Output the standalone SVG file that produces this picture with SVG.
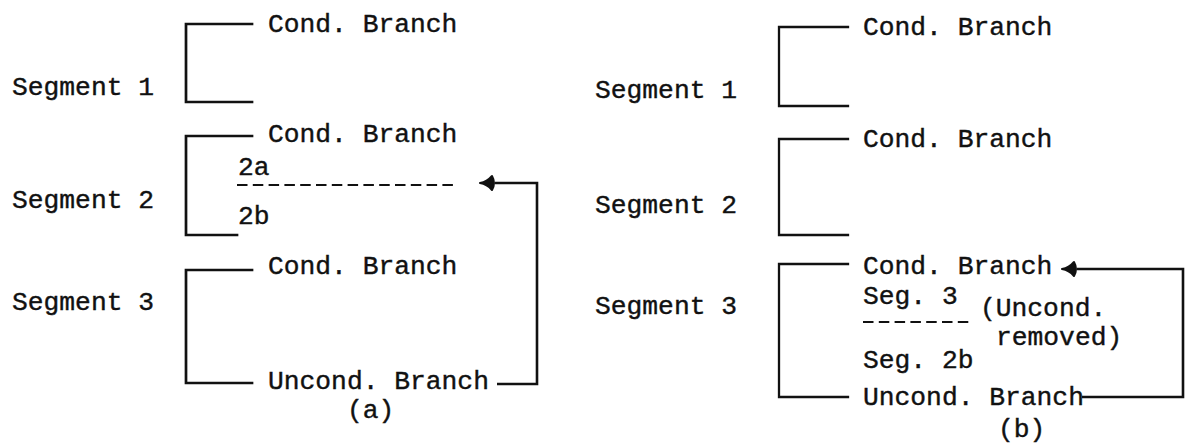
<svg xmlns="http://www.w3.org/2000/svg" width="1195" height="443" viewBox="0 0 1195 443">
  <style>
    text { font-family: "Liberation Mono", "DejaVu Sans Mono", monospace; font-size: 26.3px; fill: #111; stroke: #111; stroke-width: 0.4px; }
    .br { fill: none; stroke: #111; stroke-width: 2.7; stroke-linecap: square; }
    .brr { fill: none; stroke: #111; stroke-width: 2.3; stroke-linecap: square; }
    .dash { fill: none; stroke: #111; stroke-width: 2; stroke-dasharray: 10.5 5.3; }
    .conn { fill: none; stroke: #111; stroke-width: 2.6; }
  </style>
  <defs>
    <!-- blunt, filled arrowhead used by both branch connectors -->
    <marker id="head" markerUnits="userSpaceOnUse" markerWidth="18" markerHeight="18" viewBox="0 0 18 18" refX="2" refY="9" orient="auto">
      <path d="M17 9 Q10 8 5 2 Q1 9 5 16 Q10 10 17 9 Z" fill="#111" stroke="#111" stroke-width="2" stroke-linejoin="round"/>
    </marker>
  </defs>

  <!-- (a) segments before branch removal -->
  <g id="a-seg1">
    <text x="12" y="95">Segment 1</text>
    <path class="br" d="M252 24 H186 V102 H252"/>
    <text x="268" y="32">Cond. Branch</text>
  </g>
  <g id="a-seg2">
    <text x="12" y="208">Segment 2</text>
    <path class="br" d="M252 136 H186 V235 H237"/>
    <text x="268" y="142">Cond. Branch</text>
    <text x="238" y="175">2a</text>
    <line class="dash" x1="237" y1="185" x2="458" y2="185"/>
    <text x="238" y="224">2b</text>
  </g>
  <g id="a-seg3">
    <text x="12" y="310">Segment 3</text>
    <path class="br" d="M252 270 H186 V383 H252"/>
    <text x="268" y="274">Cond. Branch</text>
    <text x="268" y="389">Uncond. Branch</text>
  </g>
  <text id="a-caption" x="347" y="418">(a)</text>

  <!-- (b) segments after branch removal -->
  <g id="b-seg1">
    <text x="595" y="98">Segment 1</text>
    <path class="brr" d="M848 27 H779 V106 H848"/>
    <text x="863" y="35">Cond. Branch</text>
  </g>
  <g id="b-seg2">
    <text x="595" y="213">Segment 2</text>
    <path class="brr" d="M848 139 H779 V235 H848"/>
    <text x="863" y="147">Cond. Branch</text>
  </g>
  <g id="b-seg3">
    <text x="595" y="314">Segment 3</text>
    <path class="brr" d="M848 264 H779 V397 H848"/>
    <text x="863" y="274">Cond. Branch</text>
    <text x="863" y="304">Seg. 3</text>
    <line class="dash" x1="863" y1="322" x2="972" y2="322"/>
    <text x="863" y="368">Seg. 2b</text>
    <text x="863" y="405">Uncond. Branch</text>
    <text x="980" y="316">(Uncond.</text>
    <text x="996" y="345">removed)</text>
  </g>
  <text id="b-caption" x="998" y="437">(b)</text>

  <!-- branch connectors -->
  <g id="connectors">
    <path class="conn" d="M497 384 H537 V183 H495" marker-end="url(#head)"/>
    <path class="conn" d="M1082 397 H1183 V269 H1077" marker-end="url(#head)"/>
  </g>
</svg>
